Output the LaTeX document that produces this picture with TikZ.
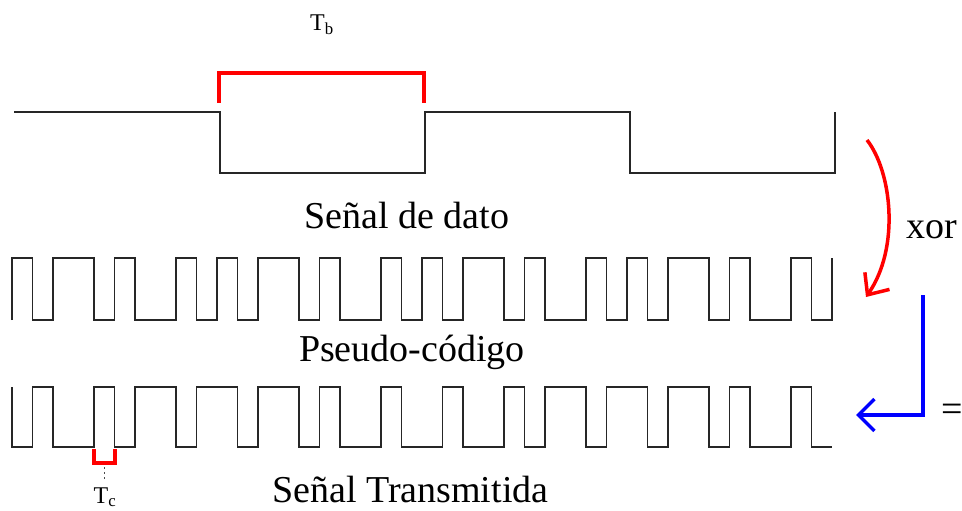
\documentclass[tikz,border=0pt]{standalone}
\usepackage{fontspec}
\setmainfont{Liberation Serif}
\usetikzlibrary{arrows.meta}
\tikzset{
  wave/.style={draw=black!85, line width=1.6pt, line join=miter},
  redmark/.style={draw=red, line width=4pt},
  biglabel/.style={font=\fontsize{38}{40}\selectfont, inner sep=0pt, anchor=base},
  smalllabel/.style={font=\fontsize{24}{26}\selectfont, inner sep=0pt, anchor=base},
  redarrow/.style={draw=red, line width=3.5pt, -{Straight Barb[length=17pt,width=30pt,line width=3.5pt]}},
  bluearrow/.style={draw=blue, line width=3.5pt, -{Straight Barb[length=16pt,width=32pt,line width=3.5pt]}}
}
\begin{document}
\begin{tikzpicture}[x=1pt,y=-1pt]
\useasboundingbox (0,0) rectangle (962,511);
% data signal
\draw[wave] (14,112) -- (220,112) -- (220,173) -- (425,173) -- (425,112) -- (630,112) -- (630,173) -- (835,173) -- (835,112);
% Tb bracket
\draw[redmark] (219,103) -- (219,73) -- (424,73) -- (424,103);
\node[smalllabel] (tb) at (322,31) {T\textsubscript{b}};
\node[biglabel] (dato) at (407,228) {Señal de dato};
% pseudo-code
\draw[wave] (12,320)
  \foreach \o in {12,217,422,627} {
   -- (\o,258) -- (\o+20.5,258) -- (\o+20.5,320) -- (\o+41,320) -- (\o+41,258)
   -- (\o+82,258) -- (\o+82,320) -- (\o+102.5,320) -- (\o+102.5,258)
   -- (\o+123,258) -- (\o+123,320) -- (\o+164,320) -- (\o+164,258)
   -- (\o+184.5,258) -- (\o+184.5,320) -- (\o+205,320)
  } -- (832,258);
\node[biglabel] (pseudo) at (412,361) {Pseudo-código};
% transmitted
\draw[wave] (12,387) -- (12,447) -- (32.5,447) -- (32.5,387) -- (53,387) -- (53,447) -- (94,447) -- (94,387)
  -- (114.5,387) -- (114.5,447) -- (135,447) -- (135,387) -- (176,387) -- (176,447) -- (196.5,447) -- (196.5,387)
  -- (237.5,387) -- (237.5,447) -- (258,447) -- (258,387) -- (299,387) -- (299,447) -- (319.5,447) -- (319.5,387)
  -- (340,387) -- (340,447) -- (381,447) -- (381,387) -- (401.5,387) -- (401.5,447) -- (442.5,447) -- (442.5,387)
  -- (463,387) -- (463,447) -- (504,447) -- (504,387) -- (524.5,387) -- (524.5,447) -- (545,447) -- (545,387)
  -- (586,387) -- (586,447) -- (606.5,447) -- (606.5,387) -- (647.5,387) -- (647.5,447) -- (668,447) -- (668,387)
  -- (709,387) -- (709,447) -- (729.5,447) -- (729.5,387) -- (750,387) -- (750,447) -- (791,447) -- (791,387)
  -- (811.5,387) -- (811.5,447) -- (832,447);
% Tc bracket
\draw[redmark] (94,449) -- (94,463) -- (115,463) -- (115,449);
\draw[black!70, line width=0.8pt, dash pattern=on 2pt off 3pt] (104.5,467) -- (104.5,481);
\node[smalllabel] (tc) at (105,503) {T\textsubscript{c}};
\node[biglabel, anchor=base west] (trans) at (272,502) {Señal Transmitida};
% xor arrow
\coordinate (rs) at (867,140);
\coordinate (re) at (866,297);
\draw[redarrow] (rs) .. controls (892,172) and (900,248) .. (re);
\node[biglabel] (xor) at (932,238) {xor};
% equals arrow
\coordinate (bs) at (923,295);
\coordinate (bc) at (923,415);
\coordinate (be) at (856,415);
\draw[bluearrow, line join=miter] (bs) -- (bc) -- (be);
\node[font=\fontsize{38}{40}\selectfont, inner sep=0pt] (eq) at (952,413) {=};
\end{tikzpicture}
\end{document}
